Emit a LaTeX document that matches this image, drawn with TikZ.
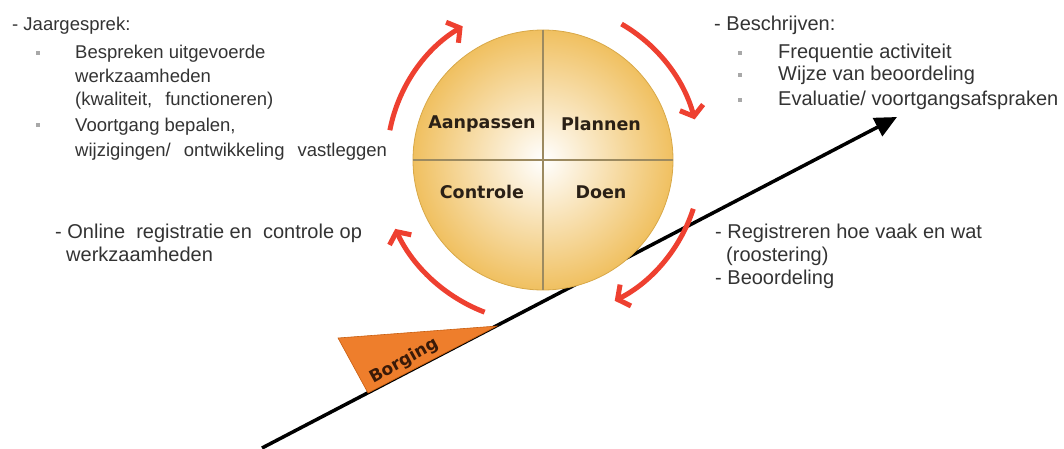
\documentclass[tikz,border=0pt]{standalone}
\usepackage{fontspec}
\setmainfont{Liberation Sans}
\newfontfamily\lblfont{DejaVu Sans}
\usetikzlibrary{arrows.meta}
\definecolor{txtgray}{HTML}{333333}
\definecolor{bulgray}{HTML}{A8A8A8}
\definecolor{arcred}{HTML}{EE4030}
\definecolor{lbltext}{HTML}{2A2016}
\definecolor{circout}{HTML}{F0C060}
\definecolor{circedge}{HTML}{D8A848}
\definecolor{divline}{HTML}{9C8A60}
\definecolor{borgfill}{HTML}{EE7E2C}
\definecolor{borgedge}{HTML}{C85E10}
\definecolor{borgtext}{HTML}{3A1A08}
\begin{document}
\begin{tikzpicture}[x=1pt,y=1pt,
  txt/.style={anchor=base west, inner sep=0, text=txtgray, font=\fontsize{20}{24}\selectfont},
  txts/.style={txt, font=\fontsize{18.5}{22}\selectfont},
  bul/.style={rectangle, fill=bulgray, minimum size=4pt, inner sep=0},
  redarc/.style={draw=arcred, line width=5pt, -{Straight Barb[length=9pt,width=24pt]}},
  lbl/.style={font=\lblfont\bfseries\fontsize{17.5}{20}\selectfont, text=lbltext}]
\useasboundingbox (0,0) rectangle (1064,448);

% black arrow
\coordinate (bstart) at (262,0);
\coordinate (btip) at (897,331);
\draw[line width=3.5pt, -{Triangle[length=22pt,width=20pt]}] (bstart) -- (btip);

% Borging wedge
\coordinate (w1) at (338,110);
\coordinate (w2) at (497,122);
\coordinate (w3) at (368,55);
\draw[fill=borgfill, draw=borgedge, line width=0.6pt] (w1) -- (w2) -- (w3) -- cycle;
\node[font=\lblfont\bfseries\fontsize{17}{19}\selectfont, text=borgtext, rotate=29, inner sep=0] (borg) at (404,87) {Borging};

% circle
\coordinate (c) at (543,288);
\node[circle, minimum size=260pt, inner sep=0, draw=circedge, line width=0.8pt,
      inner color=white, outer color=circout] (pdca) at (c) {};
\draw[divline, line width=1.4pt] (pdca.north) -- (pdca.south);
\draw[divline, line width=1.4pt] (pdca.west) -- (pdca.east);
\node[lbl] (aan) at (482,324) {Aanpassen};
\node[lbl] (pla) at (601,324) {Plannen};
\node[lbl] (con) at (482,256) {Controle};
\node[lbl] (doe) at (601,256) {Doen};

% red arcs
\draw[redarc] ([shift={(169:156)}]c) arc[start angle=169, end angle=121, radius=156];
\draw[redarc] ([shift={(60:157)}]c) arc[start angle=60, end angle=15, radius=157];
\draw[redarc] ([shift={(-18:158)}]c) arc[start angle=-18, end angle=-63, radius=158];
\draw[redarc] ([shift={(249:163)}]c) arc[start angle=249, end angle=205, radius=163];

% left top text
\node[txts] (l1) at (12,417) {- Jaargesprek:};
\node[bul] (lb1) at (38,395) {};
\node[txts] (l2) at (75,389) {Bespreken uitgevoerde};
\node[txts] (l3) at (75,365) {werkzaamheden};
\node[txts] (l4) at (75,342) {(kwaliteit,\hspace{13pt}functioneren)};
\node[bul] (lb2) at (38,323) {};
\node[txts] (l5) at (75,317) {Voortgang bepalen,};
\node[txts] (l6) at (75,292) {wijzigingen/\hspace{13pt}ontwikkeling\hspace{13pt}vastleggen};

% right top text
\node[txt] (r1) at (714,417) {- Beschrijven:};
\node[bul] (rb1) at (740,395) {};
\node[txt] (r2) at (778,389) {Frequentie activiteit};
\node[bul] (rb2) at (740,373) {};
\node[txt] (r3) at (778,367) {Wijze van beoordeling};
\node[bul] (rb3) at (740,348) {};
\node[txt] (r4) at (778,342) {Evaluatie/ voortgangsafspraken};

% left bottom text
\node[txt] (lo1) at (55,210) {- Online\ \ registratie en\ \ controle op};
\node[txt] (lo2) at (66,187) {werkzaamheden};

% right bottom text
\node[txt] (ro1) at (715,210) {- Registreren hoe vaak en wat};
\node[txt] (ro2) at (726,187) {(roostering)};
\node[txt] (ro3) at (715,164) {- Beoordeling};
\end{tikzpicture}
\end{document}
